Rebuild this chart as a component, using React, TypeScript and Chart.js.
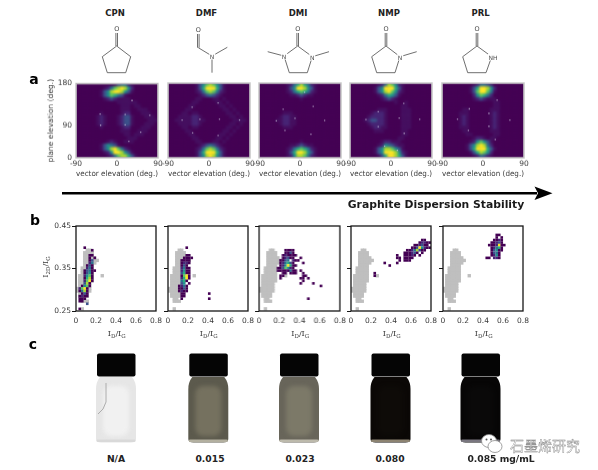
import React, { useEffect, useRef } from 'react';
import { Chart, registerables } from 'chart.js';

Chart.register(...registerables);
Chart.defaults.font.family = '"DejaVu Sans", sans-serif';

const SOLVENTS = ['CPN', 'DMF', 'DMI', 'NMP', 'PRL'];
const CONCENTRATIONS = ['N/A', '0.015', '0.023', '0.080', '0.085 mg/mL'];

// viridis steps, index = digit in the density rows
const VIRIDIS = ['#440154', '#450f60', '#472576', '#3b528b', '#2c728e', '#21908d', '#27ad81', '#5cc863', '#aadc32', '#fde725'];
const HIST_LOW = '#440154';

const VECTOR_TICKS = [-90, 0, 90];
const PLANE_TICKS = [0, 78, 180]; // the "90" label sits below the middle in the original
const PLANE_LABELS = ['0', '90', '180'];
const RATIO_X_TICKS = [0, 0.2, 0.4, 0.6, 0.8];
const RATIO_Y_TICKS = [0.25, 0.35, 0.45];

// panel a: 24 x 21 density bins, top row = plane elevation 180
const ORIENTATION_CPN = [
  '000000000001344210000000', '000000001247898520000000', '000000013589985310000000',
  '000000013576431000000000', '000000001232111100000000', '000000000000111111000000',
  '000000000000011101100000', '000000000000011100111000', '000000010000012200011100',
  '000000121000123310001110', '000000121000123310000111', '000000121000123310001110',
  '000000010000012200011100', '000000000000011100111000', '000000000000001101110000',
  '000000000000000111000000', '000000000121001110000000', '000000013543100000000000',
  '000000013589742100000000', '000000001259985310000000', '000000000124788631000000',
];
const ORIENTATION_DMF = [
  '000000001357875310000000', '000000001369996310000000', '000000001247874210000000',
  '000000000123432100000000', '000000001100011010000000', '000000011000001101000000',
  '000000110000000110100000', '000001100000000011010000', '000011011000000001101000',
  '000111122100000000110100', '001111122110000000011110', '000111122100000000110100',
  '000011011000000001101000', '000001100000000011010000', '000000110000000110100000',
  '000000011000001101000000', '000000001100011010000000', '000000000123432100000000',
  '000000001247874210000000', '000000001369996310000000', '000000001358985310000000',
];
const ORIENTATION_DMI = [
  '000000001246864210000000', '000000001359985310000000', '000000001246764210000000',
  '000000000112321100000000', '000000000000100000000000', '000000000000000000000000',
  '000000000000000000000000', '000000000000000000000000', '000000011100000000000000',
  '000000122110000000000000', '000001122110000000000000', '000000122110000000000000',
  '000000011100000000000000', '000000000000000000000000', '000000000000000000000000',
  '000000000000000000000000', '000000000000100000000000', '000000000112321100000000',
  '000000001246764210000000', '000000001369985310000000', '000000001258874210000000',
];
const ORIENTATION_NMP = [
  '000000001248752100000000', '000000013599963100000000', '000000013589752100000000',
  '000000001246531000000000', '000000000123210000000000', '000000000000010010000000',
  '000000000000000110000000', '000000001110000111000000', '000000122210000111000000',
  '000001222210000111000000', '000012332210000111000000', '000001222210000111000000',
  '000000122110000111000000', '000000011100000110000000', '000000000000000110000000',
  '000000000000001100000000', '000000000122111000000000', '000000001254321100000000',
  '000000013588753100000000', '000000013599985210000000', '000000001369986310000000',
];
const ORIENTATION_PRL = [
  '000000000124432000000000', '000000001369985200000000', '000000001379974100000000',
  '000000000257642000000000', '000000000123211100000000', '000000000000000110000000',
  '000000000000000110000000', '000000110000001110000000', '000001110000001210000000',
  '000001210000001210000000', '000001210000001210000000', '000001210000001210000000',
  '000001110000001210000000', '000000110000001110000000', '000000011000000110000000',
  '000000000122101100000000', '000000001257531000000000', '000000013589842000000000',
  '000000013699963100000000', '000000001368752000000000', '000000000124321000000000',
];
const ORIENTATION = [ORIENTATION_CPN, ORIENTATION_DMF, ORIENTATION_DMI, ORIENTATION_NMP, ORIENTATION_PRL];

// bragg spots, [vector elevation, plane elevation]
const SPOTS_CPN = [[33, 139], [72, 103], [52, 62], [26, 40], [18, 80], [18, 105], [-37, 106], [-36, 79]];
const SPOTS_DMF = [[-37, 122], [-59, 91], [-20, 93], [23, 93], [67, 91], [20, 132], [20, 54], [-36, 60]];
const SPOTS_DMI = [[-37, 117], [-52, 89], [-11, 95], [-33, 66], [10, 158], [29, 124], [54, 90], [24, 57]];
const SPOTS_NMP = [[-28, 111], [-55, 92], [-28, 75], [18, 96], [63, 93], [28, 131], [29, 59], [14, 18], [-14, 28]];
const SPOTS_PRL = [[-30, 118], [-56, 93], [-32, 66], [13, 107], [13, 76], [31, 139], [59, 91], [27, 44]];
const SPOTS = [SPOTS_CPN, SPOTS_DMF, SPOTS_DMI, SPOTS_NMP, SPOTS_PRL];

// panel b: histogram rows [row, first column, digits]; '.' = empty bin
const GRAPHITE = [
  [9, 4, '##'], [10, 3, '####'], [11, 3, '####'], [12, 3, '#####'], [13, 3, '######'], [14, 3, '#####'],
  [15, 3, '####'], [16, 2, '#####'], [17, 2, '#####'], [18, 2, '#####'], [19, 1, '######'], [19, 10, '#'],
  [20, 1, '######'], [21, 1, '######'], [22, 1, '#####'], [23, 1, '#####'], [24, 0, '######'],
  [25, 0, '######'], [26, 1, '####'], [27, 1, '####'], [28, 2, '##'], [29, 2, '###'], [32, 2, '#'],
];
const DENSITY_CPN = [
  [8, 3, '1'], [9, 6, '1'], [11, 5, '11'], [12, 5, '1.1'], [13, 5, '13'], [14, 5, '24'], [15, 4, '131'],
  [16, 4, '241'], [17, 3, '13411'], [18, 3, '1351'], [19, 3, '2571'], [20, 3, '1681'], [21, 3, '2791'],
  [22, 3, '381'], [23, 2, '1571'], [24, 1, '2791'], [25, 1, '1481'], [26, 2, '131'], [27, 1, '1211'],
  [28, 1, '111'], [29, 1, '11'], [30, 4, '3'], [32, 1, '1'],
];
const DENSITY_DMF = [
  [8, 7, '1'], [11, 7, '11'], [12, 6, '1111'], [13, 5, '1111'], [14, 5, '1221'], [15, 5, '131'], [16, 5, '2411'],
  [17, 5, '2511'], [18, 5, '3611'], [19, 5, '1791'], [20, 5, '2691'], [21, 5, '461'], [22, 5, '35.1'],
  [23, 4, '1241'], [24, 4, '1131'], [25, 4, '1211'], [26, 5, '11'], [26, 16, '1'], [27, 5, '11'], [28, 5, '1'], [28, 16, '1'],
];
const DENSITY_DMI = [
  [9, 10, '1111'], [10, 10, '1131'], [11, 9, '121111'], [12, 9, '12311'], [12, 16, '1'], [13, 8, '1134.211'],
  [14, 8, '124631'], [14, 17, '1'], [15, 8, '1259611'], [16, 7, '1137521'], [17, 7, '11111411.1'], [18, 8, '.11.111'],
  [18, 17, '1'], [19, 8, '11'], [19, 17, '11'], [20, 8, '1'], [20, 16, '11'], [20, 19, '1'], [21, 17, '1'],
  [22, 16, '1'], [22, 21, '1'], [23, 24, '1'], [28, 19, '1'],
];
const DENSITY_NMP = [
  [5, 28, '11'], [6, 27, '12211'], [7, 25, '112311'], [8, 24, '11395211'], [9, 22, '11248311'], [10, 21, '111231.1'],
  [11, 18, '1..11121.1'], [12, 18, '11.1111'], [13, 18, '.1.111'], [14, 13, '1'], [14, 18, '1'], [15, 15, '1'],
  [18, 9, '1'], [19, 9, '1'],
];
const DENSITY_PRL = [
  [3, 21, '11'], [4, 21, '1.1'], [5, 20, '1121'], [6, 19, '11231'], [7, 18, '1112911'], [8, 19, '12461'],
  [9, 19, '13511'], [10, 19, '1341'], [11, 19, '1251'], [12, 17, '11.221'],
];
const DENSITY = [DENSITY_CPN, DENSITY_DMF, DENSITY_DMI, DENSITY_NMP, DENSITY_PRL];

// where each plot area goes on the page
const A_LEFT = [76, 167.5, 259, 350, 441.5];
const A_TOP = 83;
const A_W = 82;
const A_H = 74.5;
const B_LEFT = [75.5, 167.5, 259, 350.5, 442.5];
const B_TOP = 226;
const B_W = 80.5;
const B_H = 85;

const TEXT = '#3a3a3a';
const SERIF = '"DejaVu Serif", serif';

// molecule outlines, polylines on the page
const MOLECULES = [
  { lines: [[[116.7, 46], [130.7, 56.7], [125.7, 72.7], [107.3, 72.7], [102.3, 56.7], [116.7, 46]]], dbl: [115.9, 117.5, 46, 32], o: [116.7, 29] },
  { lines: [[[198.3, 47.7], [212, 56], [227.3, 47.3]], [[212, 56], [212, 72.7]]], dbl: [197.5, 199.1, 47.7, 33], o: [198.3, 30], n: [[212, 56, 'N']] },
  { lines: [[[297.7, 46], [284, 56], [289.3, 72.7], [307.3, 72.7], [312.3, 56.7], [297.7, 46]], [[284, 56], [267.7, 51.7]], [[312.3, 56.7], [329, 51.7]]], dbl: [296.9, 298.5, 46, 32], o: [297.7, 29], n: [[284, 56, 'N'], [312.3, 56.7, 'N']] },
  { lines: [[[386, 46], [400, 56.7], [395, 72.7], [376.7, 72.7], [371.7, 56.7], [386, 46]], [[400, 56.7], [416.7, 51.7]]], dbl: [385.2, 386.8, 46, 32], o: [386, 29], n: [[400, 56.7, 'N']] },
  { lines: [[[477, 46], [491.7, 56.7], [486, 72.7], [467.7, 72.7], [462.7, 56.7], [477, 46]]], dbl: [476.2, 477.8, 46, 32], o: [477, 29], n: [[493, 56.7, 'NH']] },
];

const VIAL_X = [116, 208.3, 299, 390.5, 480.5];
const VIAL_LABEL_X = [116, 210, 300, 390, 501];
const VIAL_BODY = ['#e6e6e6', '#5c5a4d', '#68655a', '#0b0806', '#070606'];
const VIAL_CORE = ['#f1f1f1', '#75715f', '#7c7968', '#0e0b08', '#0a0909'];
const VIAL_FOOT = ['#d9d9d9', '#b3b0a0', '#bdbaac', '#8d8472', '#7a7780'];

const framePlugin = {
  id: 'frame',
  afterDraw(chart: any, _args: any, opts: any) {
    if (!opts.color) return;
    const { left, top, width, height } = chart.chartArea;
    const ctx = chart.ctx;
    ctx.save();
    ctx.strokeStyle = opts.color;
    ctx.lineWidth = opts.width;
    ctx.strokeRect(left, top, width, height);
    ctx.restore();
  },
};

function ChartCanvas({ config, left, top, width, height, style }: any) {
  const ref = useRef<HTMLCanvasElement | null>(null);
  useEffect(() => {
    if (!ref.current) return;
    const chart = new Chart(ref.current, config);
    return () => chart.destroy();
  }, []);
  return (
    <canvas
      ref={ref}
      width={width}
      height={height}
      style={{ position: 'absolute', left, top, width, height, ...style }}
    />
  );
}

const setTicks = (values: number[]) => (scale: any) => {
  scale.ticks = values.map((value) => ({ value }));
};
const fitWidth = (w: number) => (scale: any) => { scale.width = w; };
const fitHeight = (h: number) => (scale: any) => { scale.height = h; };

function cellPoints(rows: string[]) {
  const points: any[] = [];
  const colors: string[] = [];
  rows.forEach((row, r) => {
    row.split('').forEach((d, c) => {
      points.push({ x: -90 + 7.5 * (c + 0.5), y: 180 - ((r + 0.5) * 180) / 21 });
      colors.push(VIRIDIS[Number(d)]);
    });
  });
  return { points, colors };
}

function heatConfig(rows: string[]): any {
  const { points, colors } = cellPoints(rows);
  return {
    type: 'scatter',
    data: {
      datasets: [{
        data: points,
        pointStyle: 'rect',
        pointRadius: 2.75,
        borderWidth: 0,
        pointBackgroundColor: colors,
        clip: false,
      }],
    },
    options: {
      responsive: false,
      animation: false,
      layout: { padding: 0, autoPadding: false },
      plugins: { legend: { display: false }, tooltip: { enabled: false } },
      scales: {
        x: { display: false, min: -90, max: 90 },
        y: { display: false, min: 0, max: 180 },
      },
    },
  };
}

function orientationConfig(i: number, marginL: number): any {
  return {
    type: 'scatter',
    data: {
      datasets: [{
        data: SPOTS[i].map(([x, y]) => ({ x, y })),
        pointStyle: 'rect',
        pointRadius: 0.9,
        borderWidth: 0,
        pointBackgroundColor: 'rgba(214,208,232,0.7)',
      }],
    },
    plugins: [framePlugin],
    options: {
      responsive: false,
      animation: false,
      layout: { padding: { top: 8, right: 14, left: 0, bottom: 0 }, autoPadding: false },
      plugins: {
        legend: { display: false },
        tooltip: { enabled: false },
        frame: { color: '#c9c9c9', width: 1.6 },
      },
      scales: {
        x: {
          min: -90, max: 90,
          afterBuildTicks: setTicks(VECTOR_TICKS),
          afterFit: fitHeight(21),
          grid: { display: false, drawTicks: false, tickLength: 0 },
          border: { display: false },
          ticks: { color: TEXT, font: { size: 7.5 }, padding: 1.5, maxRotation: 0, autoSkip: false },
          title: { display: true, text: 'vector elevation (deg.)', color: TEXT, font: { size: 7.5 }, padding: 0 },
        },
        y: {
          min: 0, max: 180,
          afterBuildTicks: setTicks(PLANE_TICKS),
          afterFit: fitWidth(marginL),
          grid: { display: false, drawTicks: false, tickLength: 0 },
          border: { display: false },
          ticks: {
            display: i === 0,
            color: TEXT,
            font: { size: 7.5 },
            padding: 4,
            autoSkip: false,
            callback: (_v: any, idx: number) => PLANE_LABELS[idx],
          },
          title: { display: i === 0, text: 'plane elevation (deg.)', color: TEXT, font: { size: 7.5 }, padding: 0 },
        },
      },
    },
  };
}

// histogram bin index -> data value
const binX = (c: number) => 0.0125 + 0.025 * c;
const binY = (r: number) => 0.45 - 0.006 * (r + 0.5);

function ratioConfig(i: number, marginL: number): any {
  const grey: any[] = [];
  GRAPHITE.forEach(([r, c, s]: any) => {
    s.split('').forEach((_d: string, k: number) => grey.push({ x: binX(c + k), y: binY(r) }));
  });
  const cells: any[] = [];
  const colors: string[] = [];
  DENSITY[i].forEach(([r, c, s]: any) => {
    s.split('').forEach((d: string, k: number) => {
      if (d === '.') return;
      cells.push({ x: binX(c + k), y: binY(r) });
      colors.push(d === '1' ? HIST_LOW : VIRIDIS[Number(d)]);
    });
  });
  return {
    type: 'scatter',
    data: {
      datasets: [
        { data: cells, order: 1, pointStyle: 'rect', pointRadius: 1.85, borderWidth: 0, pointBackgroundColor: colors },
        { data: grey, order: 2, pointStyle: 'rect', pointRadius: 2.4, borderWidth: 0, pointBackgroundColor: '#bfbfbf' },
      ],
    },
    plugins: [framePlugin],
    options: {
      responsive: false,
      animation: false,
      layout: { padding: { top: 8, right: 14, left: 0, bottom: 0 }, autoPadding: false },
      plugins: {
        legend: { display: false },
        tooltip: { enabled: false },
        frame: { color: '#161616', width: 1.3 },
      },
      scales: {
        x: {
          min: 0, max: 0.8,
          afterBuildTicks: setTicks(RATIO_X_TICKS),
          afterFit: fitHeight(18),
          grid: { display: false, drawTicks: false, tickLength: 0 },
          border: { display: false },
          ticks: {
            color: TEXT,
            font: { size: 7.5 },
            padding: 6,
            maxRotation: 0,
            autoSkip: false,
            callback: (v: number) => (v === 0 ? '0' : v.toFixed(1)),
          },
        },
        y: {
          min: 0.25, max: 0.45,
          afterBuildTicks: setTicks(RATIO_Y_TICKS),
          afterFit: fitWidth(marginL),
          border: { display: false },
          grid: { drawOnChartArea: false, drawTicks: true, tickLength: 4, color: '#161616', lineWidth: 1 },
          ticks: {
            color: TEXT,
            font: { size: 7.5 },
            padding: 1,
            autoSkip: false,
            callback: (v: number) => (i === 0 ? v.toFixed(2) : ''),
          },
        },
      },
    },
  };
}

const centered = (x: number, y: number, extra: any = {}): any => ({
  position: 'absolute',
  left: x,
  top: y,
  transform: 'translate(-50%, -50%)',
  whiteSpace: 'nowrap',
  ...extra,
});

function RatioLabel({ top }: { top: string }) {
  const sub = { fontSize: 5.5, lineHeight: 0 };
  return (
    <span style={{ fontFamily: SERIF, fontSize: 8, lineHeight: 1, color: TEXT }}>
      I<sub style={sub}>{top}</sub>/I<sub style={sub}>G</sub>
    </span>
  );
}

function Vial({ i }: { i: number }) {
  const x = VIAL_X[i];
  const body = `M${x - 16} 377 L${x + 16} 377 Q${x + 20} 382 ${x + 20} 389 L${x + 20} 439 Q${x + 20} 442.5 ${x + 15} 442.5 L${x - 15} 442.5 Q${x - 20} 442.5 ${x - 20} 439 L${x - 20} 389 Q${x - 20} 382 ${x - 16} 377 Z`;
  return (
    <g>
      <path d={body} fill={VIAL_BODY[i]} />
      <rect x={x - 13} y={386} width={26} height={50} rx={8} fill={VIAL_CORE[i]} style={{ filter: 'blur(2px)' }} />
      <rect x={x - 19.5} y={439.5} width={39} height={2.6} rx={1.3} fill={VIAL_FOOT[i]} style={{ filter: 'blur(0.5px)' }} />
      {i === 0 && <path d={`M${x - 10} 383 L${x - 10} 402 Q${x - 12} 410 ${x - 18} 414`} stroke="#a5a5a5" strokeWidth={0.9} fill="none" />}
      <rect x={x - 19} y={353.5} width={38.5} height={23} rx={2} fill="#050505" />
    </g>
  );
}

export default function App() {
  return (
    <div style={{ position: 'fixed', left: 0, top: 0, width: 598, height: 470, background: '#fff', overflow: 'hidden', fontFamily: '"DejaVu Sans", sans-serif', filter: 'blur(0.3px)' }}>
      <svg width={598} height={470} style={{ position: 'absolute', left: 0, top: 0 }}>
        {MOLECULES.map((m, i) => (
          <g key={i} stroke="#4a4a4a" strokeWidth={0.8} fill="none">
            {m.lines.map((pts, k) => (
              <polyline key={k} points={pts.map((p) => p.join(',')).join(' ')} />
            ))}
            <line x1={m.dbl[0]} y1={m.dbl[2]} x2={m.dbl[0]} y2={m.dbl[3]} />
            <line x1={m.dbl[1]} y1={m.dbl[2]} x2={m.dbl[1]} y2={m.dbl[3]} />
          </g>
        ))}
        <line x1={62} y1={193.3} x2={537} y2={193.3} stroke="#000" strokeWidth={2.4} />
        <polygon points="552.5,193.3 534.5,186.5 538,193.3 534.5,200" fill="#000" />
        {VIAL_X.map((_, i) => <Vial key={i} i={i} />)}
      </svg>

      {MOLECULES.map((m, i) => (
        <React.Fragment key={i}>
          <span style={centered(m.o[0], m.o[1], { fontSize: 6.5, color: '#4a4a4a', background: '#fff', padding: '0 1px', opacity: 0.99 })}>O</span>
          {(m.n || []).map((n: any, k: number) => (
            <span key={k} style={centered(n[0], n[1], { fontSize: 6, color: '#4a4a4a', background: '#fff', padding: '0 0.5px', opacity: 0.99 })}>{n[2]}</span>
          ))}
        </React.Fragment>
      ))}

      {SOLVENTS.map((s, i) => (
        <span key={s} style={centered(A_LEFT[i] + 39, 13, { fontSize: 8.5, fontWeight: 700, color: '#222' })}>{s}</span>
      ))}

      {SOLVENTS.map((s, i) => (
        <div key={s} style={{ position: 'absolute', left: A_LEFT[i], top: A_TOP, width: A_W, height: A_H, overflow: 'hidden', background: VIRIDIS[0] }}>
          <ChartCanvas config={heatConfig(ORIENTATION[i])} left={0} top={0} width={A_W} height={Math.ceil(A_H)} style={{ filter: 'blur(1.3px)' }} />
        </div>
      ))}
      {SOLVENTS.map((s, i) => {
        const marginL = i === 0 ? 29 : 10;
        return (
          <ChartCanvas key={s} config={orientationConfig(i, marginL)} left={A_LEFT[i] - marginL} top={A_TOP - 8} width={marginL + A_W + 14} height={8 + A_H + 21} />
        );
      })}

      {SOLVENTS.map((s, i) => {
        const marginL = i === 0 ? 30 : 10;
        return (
          <React.Fragment key={s}>
            <ChartCanvas config={ratioConfig(i, marginL)} left={B_LEFT[i] - marginL} top={B_TOP - 8} width={marginL + B_W + 14} height={8 + B_H + 18} />
            <span style={centered(B_LEFT[i] + B_W / 2 + 1, 329.5)}><RatioLabel top="D" /></span>
          </React.Fragment>
        );
      })}
      <span style={centered(42, 267, { transform: 'translate(-50%, -50%) rotate(-90deg)' })}><RatioLabel top="2D" /></span>

      <span style={centered(34, 79, { fontSize: 14, fontWeight: 700, color: '#000' })}>a</span>
      <span style={centered(35, 220, { fontSize: 14, fontWeight: 700, color: '#000' })}>b</span>
      <span style={centered(33, 344, { fontSize: 14, fontWeight: 700, color: '#000' })}>c</span>

      <span style={centered(436, 204, { fontSize: 10.8, fontWeight: 700, color: '#1a1a1a' })}>Graphite Dispersion Stability</span>

      {CONCENTRATIONS.map((c, i) => (
        <span key={c} style={centered(VIAL_LABEL_X[i], 457.5, { fontSize: 9.2, fontWeight: 700, color: '#222' })}>{c}</span>
      ))}

      <svg width={26} height={22} style={{ position: 'absolute', left: 480, top: 433 }}>
        <ellipse cx={9} cy={8} rx={7.5} ry={6.5} fill="#fff" stroke="#8a8a8a" strokeWidth={0.8} />
        <ellipse cx={15} cy={13.5} rx={7} ry={6} fill="#fff" stroke="#8a8a8a" strokeWidth={0.8} />
        <circle cx={6.5} cy={6.5} r={1} fill="#555" />
        <circle cx={11} cy={6.5} r={1} fill="#555" />
      </svg>
      <span style={centered(545, 445, { fontFamily: '"Noto Sans CJK SC"', fontSize: 14, color: '#fff', WebkitTextStroke: '0.35px #777' })}>石墨烯研究</span>
    </div>
  );
}
